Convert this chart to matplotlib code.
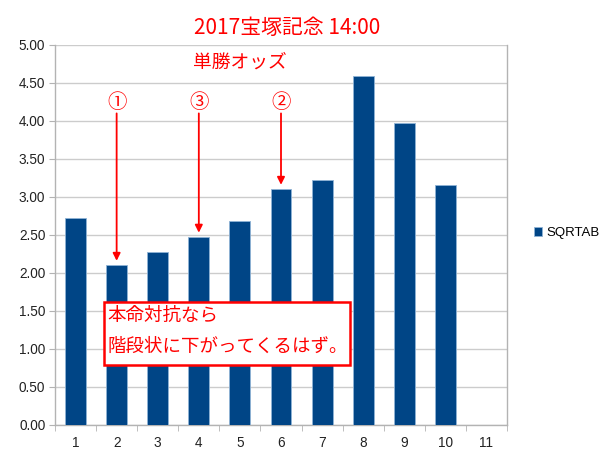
import matplotlib
matplotlib.use("Agg")
import matplotlib.pyplot as plt
import numpy as np
from matplotlib.patches import Rectangle

categories = [1, 2, 3, 4, 5, 6, 7, 8, 9, 10, 11]
values = [2.73, 2.10, 2.28, 2.47, 2.68, 3.10, 3.23, 4.59, 3.97, 3.16, np.nan]
series_name = "SQRTAB"
yticks = [0.0, 0.5, 1.0, 1.5, 2.0, 2.5, 3.0, 3.5, 4.0, 4.5, 5.0]
marks = [(2, "①"), (4, "③"), (6, "②")]
title1 = "2017宝塚記念 14:00"
title2 = "単勝オッズ"
note1 = "本命対抗なら"
note2 = "階段状に下がってくるはず。"

plt.rcParams['font.family'] = ['Liberation Sans', 'Noto Sans CJK JP', 'DejaVu Sans']
jp = ['Noto Sans CJK JP', 'DejaVu Sans']

fig = plt.figure(figsize=(6.0, 4.63), dpi=100)
W, H = 600, 463
ax = fig.add_axes([55 / W, 1 - 425 / H, (507 - 55) / W, (425 - 45) / H])

x = np.arange(1, len(categories) + 1)
ax.bar(x, values, width=0.51, color='#004586', edgecolor='#8fb3d6', linewidth=0.6,
       label=series_name, zorder=3)

ax.set_xlim(0.5, len(categories) + 0.5)
ax.set_ylim(0, 5)
ax.set_yticks(yticks)
ax.set_yticklabels([f"{v:.2f}" for v in yticks], fontsize=9.8, color='#222222')
ax.set_xticks(x)
ax.set_xticklabels([str(c) for c in categories], fontsize=9.8, color='#222222')
ax.set_xticks(np.arange(0.5, len(categories) + 1, 1), minor=True)
ax.tick_params(axis='x', which='major', length=0, pad=8)
ax.tick_params(axis='x', which='minor', length=4, color='#b3b3b3', direction='out')
ax.tick_params(axis='y', length=4, color='#b3b3b3', direction='out', pad=3)
ax.yaxis.grid(True, color='#cccccc', linewidth=1.0, zorder=0)
ax.set_axisbelow(True)
for s in ['left', 'bottom', 'right']:
    ax.spines[s].set_color('#b3b3b3')
    ax.spines[s].set_linewidth(1.0)
ax.spines['top'].set_visible(False)

# annotations
for pos, lab in marks:
    v = values[pos - 1]
    ax.annotate("", xy=(pos, v + 0.06), xytext=(pos, 4.10),
                arrowprops=dict(arrowstyle='-|>', color='#ff0000', lw=1.3,
                                mutation_scale=11, shrinkA=0, shrinkB=0), zorder=5)
    ax.text(pos, 4.24, lab, color='#ff0000', fontsize=14, ha='center', va='center',
            family=jp, zorder=5)

fig.text(194 / W, 1 - 28 / H, title1, color='#ff0000', fontsize=15, ha='left',
         va='center', family=jp)
fig.text(193 / W, 1 - 62 / H, title2, color='#ff0000', fontsize=13.5, ha='left',
         va='center', family=jp)

rect = Rectangle((104 / W, 1 - 365 / H), (350 - 104) / W, (365 - 302) / H,
                 transform=fig.transFigure, facecolor='white', edgecolor='#ff0000',
                 linewidth=1.8, zorder=10)
fig.patches.append(rect)
fig.text(107 / W, 1 - 316 / H, note1, color='#ff0000', fontsize=13.3, ha='left',
         va='center', family=jp, zorder=11)
fig.text(107 / W, 1 - 347 / H, note2, color='#ff0000', fontsize=13.3, ha='left',
         va='center', family=jp, zorder=11)

fig.legend(loc='center left', bbox_to_anchor=(534 / W, 1 - 233 / H), frameon=False,
           fontsize=9.5, handlelength=0.6, handleheight=0.6, handletextpad=0.35,
           borderaxespad=0, borderpad=0)

fig.savefig("out.png", dpi=100)
